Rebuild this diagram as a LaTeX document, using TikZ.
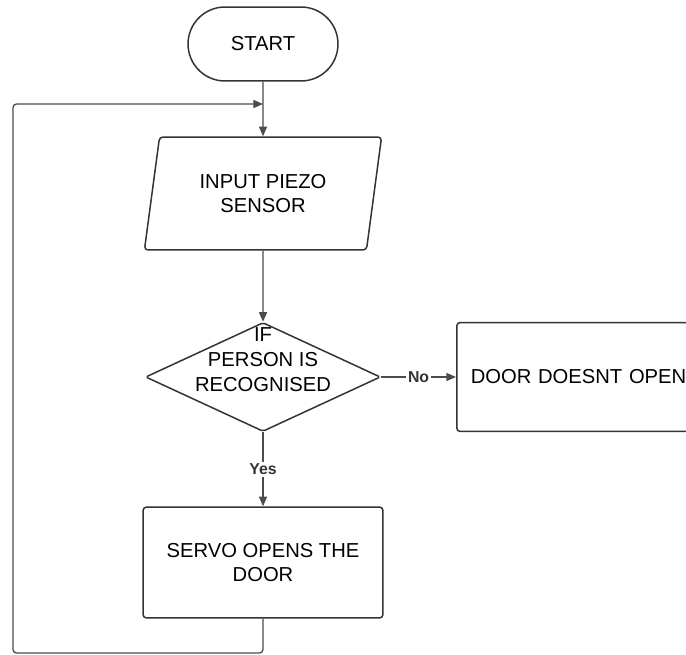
\documentclass[tikz,border=0pt]{standalone}
\usepackage{fontspec}
\setmainfont{Liberation Sans}
\usetikzlibrary{arrows.meta}
\usetikzlibrary{shapes.geometric, positioning, calc}

\begin{document}
\begin{tikzpicture}[x=0.02cm, y=-0.02cm,
        box/.style={draw=black!80, line width=0.85pt, rounded corners=2pt, align=center, font=\fontsize{11.5}{13.8}\selectfont},
        link/.style={draw=black!70, line width=0.75pt, -{Triangle[length=5.5pt, width=4.6pt]}},
        lbl/.style={fill=white, inner sep=1pt, text=black!80, font=\fontsize{9}{10}\selectfont\bfseries}]
        \useasboundingbox (0, 0) rectangle (686, 655);
        \clip (0, 0) rectangle (686, 655);

        % shapes
        \node[box, rounded corners=0.74cm, minimum width=3cm, minimum height=1.48cm] (start) at (263, 44) {START};
        \node[box, trapezium, trapezium left angle=76.5, trapezium right angle=103.5, trapezium stretches=true, minimum width=4.78cm, minimum height=2.26cm, inner sep=0pt] (input) at (263, 193.5) {INPUT PIEZO\\SENSOR};
        \node[box, diamond, rounded corners=1pt, minimum width=4.7cm, minimum height=2.18cm, inner sep=0pt] (check) at (263, 377) {};
        \node[align=center, font=\fontsize{11.5}{14.2}\selectfont] (checktext) at (263, 360) {IF\\PERSON IS\\RECOGNISED};
        \node[box, anchor=west, align=left, inner xsep=0.28cm, text width=5.6cm, minimum height=2.18cm] (door) at (456, 377) {DOOR DOESNT OPEN};
        \node[box, minimum width=4.8cm, minimum height=2.22cm] (servo) at (263, 562.5) {SERVO OPENS THE\\DOOR};

        % loop corners
        \coordinate (loopbl) at (13, 653);
        \coordinate (looptl) at (13, 104);
        \coordinate (merge) at (start.south |- looptl);

        % connectors
        \draw[link] (start) -- (input);
        \draw[link] (input) -- (check);
        \draw[link] (check) -- node[lbl] (no) {No} (door);
        \draw[link] (check) -- node[lbl] (yes) {Yes} (servo);
        \draw[link, rounded corners=2pt] (servo.south) |- (loopbl) -- (looptl) -- (merge);

      \end{tikzpicture}
\end{document}
